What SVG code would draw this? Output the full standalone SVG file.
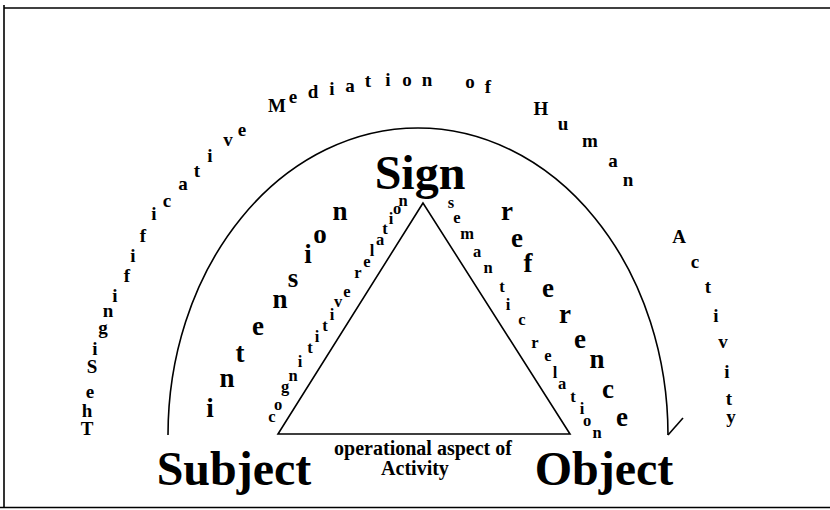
<svg xmlns="http://www.w3.org/2000/svg" width="830" height="510" viewBox="0 0 830 510">
<style>
text{font-family:"Liberation Serif","Times New Roman",serif;font-weight:bold;fill:#000;text-anchor:middle}
.big{font-size:48px}
.outer{font-size:19px}
.mid{font-size:27px}
.small{font-size:16.5px}
.op{font-size:20px}
.ln{fill:none;stroke:#000;stroke-width:1.6}
</style>
<rect width="830" height="510" fill="#fff"/>
<g id="frame" class="ln">
<line x1="4" y1="8" x2="830" y2="8"/>
<line x1="4" y1="5" x2="4" y2="508"/>
<line x1="0" y1="507.5" x2="830" y2="507.5"/>
</g>
<g id="connectors" class="ln">
<path d="M168 435 A250 307 0 0 1 668 435"/>
<line x1="668" y1="435" x2="683" y2="418"/>
<path d="M423 203 L278 434 L570 434 Z"/>
</g>
<g id="sign"><text class="big" x="420" y="189">Sign</text></g>
<g id="subject"><text class="big" x="234" y="485">Subject</text></g>
<g id="object"><text class="big" x="604" y="485">Object</text></g>
<g id="operational">
<text class="op" x="423" y="455">operational aspect of</text>
<text class="op" x="415" y="475">Activity</text>
</g>
<g id="outer-label" class="outer">
<text x="87" y="435">T</text><text x="87" y="417">h</text><text x="90" y="398">e</text>
<text x="92" y="373">S</text><text x="95" y="355">i</text><text x="103" y="334">g</text><text x="108" y="317">n</text>
<text x="115" y="302">i</text><text x="127" y="282">f</text><text x="133" y="262">i</text><text x="143" y="242">f</text>
<text x="154" y="220">i</text><text x="167" y="207">c</text><text x="183" y="190">a</text><text x="197" y="177">t</text>
<text x="210" y="162">i</text><text x="228" y="146">v</text><text x="242" y="136">e</text>
<text x="277" y="112">M</text><text x="293" y="103">e</text><text x="313" y="98">d</text><text x="332" y="95">i</text>
<text x="350" y="92">a</text><text x="368" y="87">t</text><text x="388" y="86">i</text><text x="407" y="86">o</text><text x="427" y="86">n</text>
<text x="470" y="88">o</text><text x="488" y="93">f</text>
<text x="541" y="115">H</text><text x="563" y="130">u</text><text x="590" y="147">m</text><text x="613" y="167">a</text><text x="628" y="186">n</text>
<text x="679" y="243">A</text><text x="695" y="268">c</text><text x="708" y="293">t</text><text x="716" y="322">i</text>
<text x="723" y="348">v</text><text x="727" y="378">i</text><text x="729" y="405">t</text><text x="731" y="423">y</text>
</g>
<g id="intension-label" class="mid">
<text x="210" y="417">i</text><text x="227" y="387">n</text><text x="240" y="362">t</text><text x="258" y="335">e</text>
<text x="280" y="308">n</text><text x="293" y="287">s</text><text x="308" y="263">i</text><text x="320" y="243">o</text><text x="340" y="220">n</text>
</g>
<g id="reference-label" class="mid">
<text x="507" y="220">r</text><text x="517" y="247">e</text><text x="528" y="272">f</text><text x="548" y="297">e</text>
<text x="565" y="323">r</text><text x="580" y="348">e</text><text x="597" y="368">n</text><text x="608" y="398">c</text><text x="622" y="426">e</text>
</g>
<g id="cognitive-label" class="small">
<text x="272" y="422">c</text><text x="278" y="410">o</text><text x="285" y="392">g</text><text x="293" y="381">n</text>
<text x="300" y="367">i</text><text x="310" y="353">t</text><text x="317" y="342">i</text><text x="325" y="331">t</text>
<text x="332" y="320">i</text><text x="338" y="307">v</text><text x="347" y="297">e</text>
<text x="358" y="278">r</text><text x="367" y="267">e</text><text x="372" y="256">l</text><text x="380" y="245">a</text>
<text x="385" y="234">t</text><text x="391" y="224">i</text><text x="397" y="214">o</text><text x="403" y="206">n</text>
</g>
<g id="semantic-label" class="small">
<text x="451" y="208">s</text><text x="457" y="223">e</text><text x="467" y="239">m</text><text x="477" y="257">a</text>
<text x="488" y="273">n</text><text x="502" y="292">t</text><text x="508" y="310">i</text><text x="522" y="325">c</text>
<text x="535" y="348">r</text><text x="548" y="361">e</text><text x="555" y="378">l</text><text x="562" y="389">a</text>
<text x="573" y="402">t</text><text x="582" y="414">i</text><text x="587" y="426">o</text><text x="597" y="438">n</text>
</g>
</svg>
